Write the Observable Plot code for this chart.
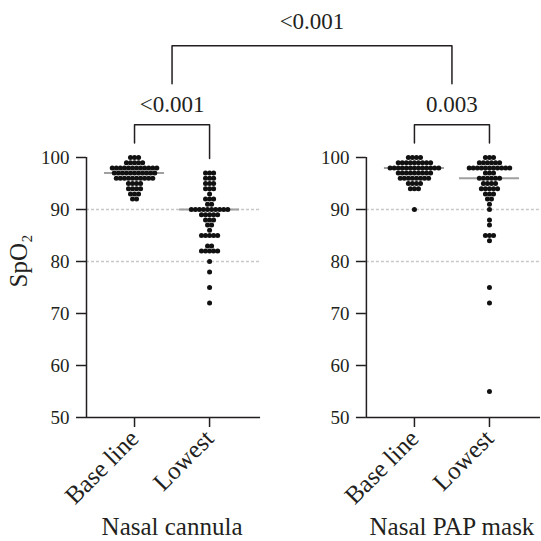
<!DOCTYPE html>
<html><head><meta charset="utf-8">
<script src="https://cdn.jsdelivr.net/npm/d3@7"></script>
<script src="https://cdn.jsdelivr.net/npm/@observablehq/plot@0.6"></script>
<style>body{margin:0;background:#fff}</style>
</head><body><div id="chart"></div>
<script>
// ---- data ----
const groups = ["Nasal cannula", "Nasal PAP mask"];
const categories = ["Base line", "Lowest"];
const yTicks = [50, 60, 70, 80, 90, 100];
const refLines = [90, 80];
const pValues = ["<0.001", "0.003", "<0.001"];

const ncBaselineValues = [100, 99, 98, 97, 96, 95, 94, 93, 92];
const ncBaselineCounts = [3, 5, 12, 11, 10, 4, 4, 3, 2];
const ncLowestValues = [97, 96, 95, 94, 93, 92, 91, 90, 89, 88, 87, 86, 85, 83, 82, 80, 78, 75, 72];
const ncLowestCounts = [3, 3, 3, 3, 1, 3, 2, 10, 5, 3, 2, 1, 5, 2, 5, 1, 1, 1, 1];
const papBaselineValues = [100, 99, 98, 97, 96, 95, 94, 90];
const papBaselineCounts = [4, 9, 13, 9, 8, 4, 3, 1];
const papLowestValues = [100, 99, 98, 97, 96, 95, 94, 93, 92, 91, 90, 88, 87, 85, 84, 75, 72, 55];
const papLowestCounts = [3, 6, 11, 3, 6, 4, 5, 3, 2, 1, 1, 1, 1, 3, 1, 1, 1, 1];

// ---- layout (not data) ----
const panelOffset = 3.73;       // distance between the two panels in x units
const panelSpan = [-0.64, 1.68]; // extent of a panel around its categories
const dotStep = 0.054;          // horizontal spacing of stacked dots
const medianHalf = 0.4;
const legGap = 2.8;
const innerTop = 106.3, outerLeg = 114.2, outerTop = 121.5;
const ink = "#231f20";
const font = "'Liberation Serif', serif";

const series = [
  {g: 0, c: 0, values: ncBaselineValues, counts: ncBaselineCounts},
  {g: 0, c: 1, values: ncLowestValues, counts: ncLowestCounts},
  {g: 1, c: 0, values: papBaselineValues, counts: papBaselineCounts},
  {g: 1, c: 1, values: papLowestValues, counts: papLowestCounts}
];
const pos = (g, c) => c + g * panelOffset;
series.forEach(s => {
  s.x = pos(s.g, s.c);
  s.all = s.values.flatMap((v, k) => d3.range(s.counts[k]).map(() => v));
});
const dots = series.flatMap(s => s.values.flatMap((v, k) =>
  d3.range(s.counts[k]).map(i => ({x: s.x + (i - (s.counts[k] - 1) / 2) * dotStep, y: v}))));
const medians = series.map(s => ({x1: s.x - medianHalf, x2: s.x + medianHalf, y: d3.median(s.all)}));

const panels = groups.map((name, g) => ({name, g, x1: panelSpan[0] + pos(g, 0), x2: panelSpan[1] + pos(g, 0), cx: pos(g, 0.5)}));
const refRows = panels.flatMap(p => refLines.map(r => ({x1: p.x1, x2: p.x2, y: r})));
const yTickRows = panels.flatMap(p => yTicks.map(t => ({x: p.x1, y: t})));
const xTickRows = groups.flatMap((g, gi) => categories.map((c, ci) => ({pos: pos(gi, ci), label: c})));

const colMax = s => d3.max(s.all) + legGap;
const brackets = [
  {a: series[0].x, b: series[1].x, la: colMax(series[0]), lb: colMax(series[1]), top: innerTop, p: pValues[0]},
  {a: series[2].x, b: series[3].x, la: colMax(series[2]), lb: colMax(series[3]), top: innerTop, p: pValues[1]},
  {a: panels[0].cx, b: panels[1].cx, la: outerLeg, lb: outerLeg, top: outerTop, p: pValues[2]}
];
const bracketPts = brackets.flatMap((b, i) => [
  {i, x: b.a, y: b.la}, {i, x: b.a, y: b.top}, {i, x: b.b, y: b.top}, {i, x: b.b, y: b.lb}]);

const yMin = d3.min(yTicks), yMax = d3.max(yTicks);

const chart = Plot.plot({
  width: 541, height: 541,
  marginLeft: 86, marginRight: 1, marginTop: 157, marginBottom: 124,
  style: {fontFamily: font, fontSize: "19px", color: ink, background: "#fff"},
  x: {domain: [panels[0].x1, panels[1].x2]},
  y: {domain: [yMin, yMax], axis: null},
  marks: [
    Plot.ruleY(refRows, {x1: "x1", x2: "x2", y: "y", stroke: "#c8c8c8", strokeWidth: 1.5, strokeDasharray: "3,2"}),
    Plot.ruleY(medians, {x1: "x1", x2: "x2", y: "y", stroke: "#a0a0a0", strokeWidth: 2}),
    Plot.dot(dots, {x: "x", y: "y", r: 2.5, fill: "#111", stroke: null}),
    Plot.ruleX(panels, {x: "x1", y1: yMin, y2: yMax, stroke: ink, strokeWidth: 1.5}),
    Plot.ruleY(panels, {y: yMin, x1: "x1", x2: "x2", stroke: ink, strokeWidth: 1.5}),
    Plot.ruleY(yTickRows, {x1: "x", x2: "x", y: "y", insetLeft: -10, stroke: ink, strokeWidth: 1.5}),
    Plot.text(yTickRows, {x: "x", y: "y", text: d => String(d.y), dx: -17, textAnchor: "end", fontSize: 19, fill: ink}),
    Plot.axisX({ticks: xTickRows.map(d => d.pos), tickFormat: v => xTickRows.find(d => Math.abs(d.pos - v) < 1e-6).label,
      tickRotate: -45, tickSize: 10, tickPadding: 7, fontSize: 25, strokeWidth: 1.5, label: null}),
    Plot.text(panels, {x: "cx", frameAnchor: "bottom", dy: 117, text: "name", fontSize: 25, fill: ink}),
    Plot.text(["SpO₂"], {frameAnchor: "left", rotate: -90, dx: -68, fontSize: 25, fill: ink}),
    Plot.line(bracketPts, {x: "x", y: "y", z: "i", stroke: ink, strokeWidth: 1.5}),
    Plot.text(brackets.slice(0, 2), {x: d => (d.a + d.b) / 2, y: "top", text: "p", dy: -20, fontSize: 23, fill: ink}),
    Plot.text(brackets.slice(2), {x: d => (d.a + d.b) / 2, y: "top", text: "p", dy: -24, fontSize: 23, fill: ink})
  ]
});
document.getElementById("chart").appendChild(chart);
</script>
</body></html>
